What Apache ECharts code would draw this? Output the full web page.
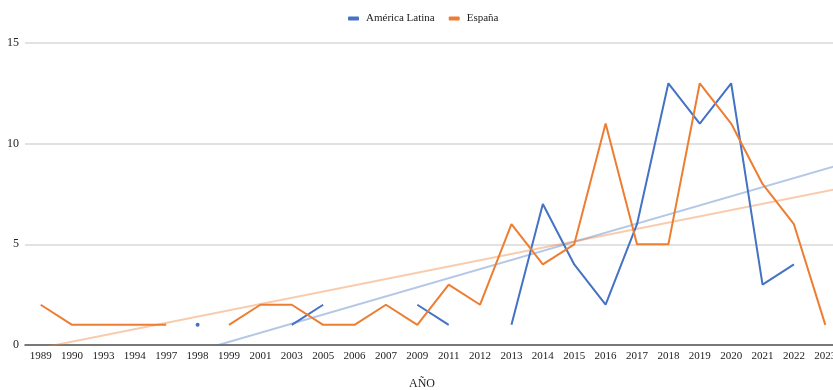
<!DOCTYPE html>
<html>
<head>
<meta charset="utf-8">
<script src="https://cdn.jsdelivr.net/npm/echarts@6/dist/echarts.min.js"></script>
<style>
  html, body { margin: 0; padding: 0; background: #fff; }
  #main { width: 833px; height: 390px; }
</style>
</head>
<body>
<div id="main"></div>
<script>
var years = ['1989', '1990', '1993', '1994', '1997', '1998', '1999', '2001', '2003', '2005', '2006', '2007', '2009',
  '2011', '2012', '2013', '2014', '2015', '2016', '2017', '2018', '2019', '2020', '2021', '2022', '2023'];
var americaLatina = [null, null, null, null, null, 1, null, null, 1, 2, null, null, 2,
  1, null, 1, 7, 4, 2, 6, 13, 11, 13, 3, 4, null];
var espana = [2, 1, 1, 1, 1, null, 1, 2, 2, 1, 1, 2, 1,
  3, 2, 6, 4, 5, 11, 5, 5, 13, 11, 8, 6, 1];
var yTicks = [0, 5, 10, 15];

var BLUE = '#4472c4';
var ORANGE = '#ed7d31';
var FONT = '"Liberation Serif", "DejaVu Serif", serif';

// linear trend (least squares over category index), like the sheet trendline
function trend(values) {
  var n = 0, sx = 0, sy = 0, sxy = 0, sxx = 0;
  values.forEach(function (v, i) {
    if (v == null) return;
    n++; sx += i; sy += v; sxy += i * v; sxx += i * i;
  });
  var b = (n * sxy - sx * sy) / (n * sxx - sx * sx);
  var a = (sy - b * sx) / n;
  var x0 = -0.5, x1 = values.length - 0.5;
  return [[x0, a + b * x0], [x1, a + b * x1]];
}

// a point with no neighbours gets a dot, everything else no symbol
function isolatedSize(values) {
  return function (val, params) {
    var i = params.dataIndex;
    var prev = i > 0 ? values[i - 1] : null;
    var next = i < values.length - 1 ? values[i + 1] : null;
    return (values[i] != null && prev == null && next == null) ? 4 : 0;
  };
}

var chart = echarts.init(document.getElementById('main'));
chart.setOption({
  animation: false,
  textStyle: { fontFamily: FONT },
  legend: {
    top: 8,
    left: 343,
    icon: 'roundRect',
    itemWidth: 11,
    itemHeight: 4,
    itemGap: 14,
    textStyle: { fontFamily: FONT, fontSize: 11, color: '#222', padding: [0, 0, 0, 2] },
    data: ['América Latina', 'España']
  },
  grid: { left: 25, top: 43, width: 816, height: 302, containLabel: false, outerBoundsMode: 'none' },
  xAxis: [{
    type: 'category',
    data: years,
    boundaryGap: true,
    name: 'AÑO',
    nameLocation: 'middle',
    nameGap: 33,
    nameTextStyle: { fontFamily: FONT, fontSize: 12, color: '#222', padding: [0, 22, 0, 0] },
    axisLine: { lineStyle: { color: '#555', width: 1.5 } },
    axisTick: { show: false },
    axisLabel: { fontFamily: FONT, fontSize: 11, color: '#222', interval: 0, margin: 6 }
  }, {
    type: 'value',
    min: -0.5,
    max: years.length - 0.5,
    show: false
  }],
  yAxis: {
    type: 'value',
    min: yTicks[0],
    max: yTicks[yTicks.length - 1],
    interval: 5,
    axisLine: { show: false },
    axisTick: { show: false },
    axisLabel: { fontFamily: FONT, fontSize: 12, color: '#222', margin: 6 },
    splitLine: { lineStyle: { color: '#d9d9d9', width: 1.5 } }
  },
  series: [{
    name: 'América Latina',
    type: 'line',
    data: americaLatina,
    connectNulls: false,
    symbol: 'circle',
    showAllSymbol: true,
    symbolSize: isolatedSize(americaLatina),
    itemStyle: { color: BLUE },
    lineStyle: { color: BLUE, width: 2 },
    emphasis: { disabled: true },
    z: 3
  }, {
    name: 'España',
    type: 'line',
    data: espana,
    connectNulls: false,
    symbol: 'circle',
    showAllSymbol: true,
    symbolSize: isolatedSize(espana),
    itemStyle: { color: ORANGE },
    lineStyle: { color: ORANGE, width: 2 },
    emphasis: { disabled: true },
    z: 4
  }, {
    name: 'trend AL',
    type: 'line',
    xAxisIndex: 1,
    data: trend(americaLatina),
    symbol: 'none',
    clip: true,
    lineStyle: { color: BLUE, width: 2, opacity: 0.4 },
    emphasis: { disabled: true },
    z: 2
  }, {
    name: 'trend ES',
    type: 'line',
    xAxisIndex: 1,
    data: trend(espana),
    symbol: 'none',
    clip: true,
    lineStyle: { color: ORANGE, width: 2, opacity: 0.4 },
    emphasis: { disabled: true },
    z: 2
  }]
});
</script>
</body>
</html>
